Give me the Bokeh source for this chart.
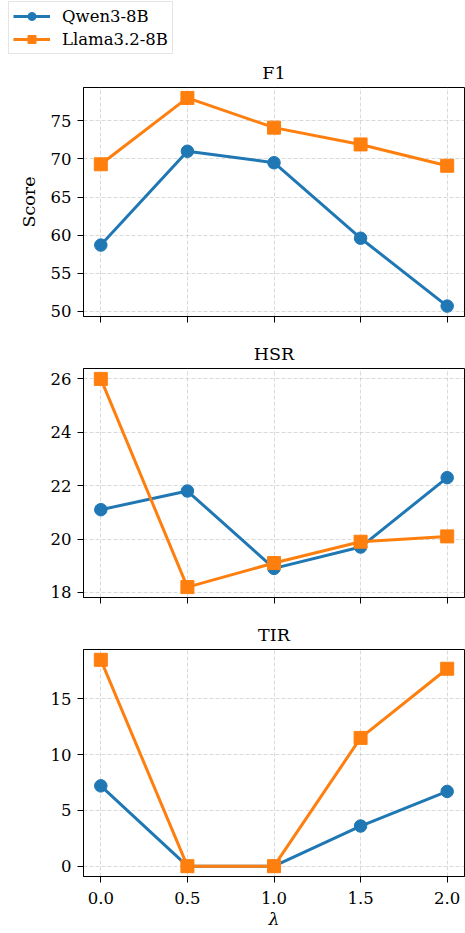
from bokeh.plotting import figure
from bokeh.layouts import column
from bokeh.models import FixedTicker, Range1d, Legend, LegendItem
from bokeh.embed import file_html
from bokeh.resources import INLINE

# ---- data ----
lambdas = [0.0, 0.5, 1.0, 1.5, 2.0]
series_names = ["Qwen3-8B", "Llama3.2-8B"]

f1_qwen = [58.7, 71.0, 69.5, 59.6, 50.7]
f1_llama = [69.3, 78.0, 74.1, 71.9, 69.1]

hsr_qwen = [21.1, 21.8, 18.9, 19.7, 22.3]
hsr_llama = [26.0, 18.2, 19.1, 19.9, 20.1]

tir_qwen = [7.2, 0.0, 0.0, 3.6, 6.7]
tir_llama = [18.5, 0.0, 0.0, 11.5, 17.7]

titles = ["F1", "HSR", "TIR"]
x_ticks = [0.0, 0.5, 1.0, 1.5, 2.0]
f1_ticks = [50, 55, 60, 65, 70, 75]
hsr_ticks = [18, 20, 22, 24, 26]
tir_ticks = [0, 5, 10, 15]

BLUE = "#1f77b4"
ORANGE = "#ff7f0e"
FONT = "DejaVu Serif"
TICK_FS = "16.5px"
TITLE_FS = "17.5px"
LABEL_FS = "17.5px"
W = 465
LEFT = 83


def padded(vals):
    lo, hi = min(vals), max(vals)
    m = (hi - lo) * 0.05
    return Range1d(lo - m, hi + m)


def add_series(p, qwen, llama):
    l1 = p.line(lambdas, qwen, line_color=BLUE, line_width=3)
    s1 = p.scatter(lambdas, qwen, marker="circle", size=12.5, fill_color=BLUE, line_color=BLUE)
    l2 = p.line(lambdas, llama, line_color=ORANGE, line_width=3)
    s2 = p.scatter(lambdas, llama, marker="square", size=13, fill_color=ORANGE, line_color=ORANGE)
    return l1, s1, l2, s2


def make_panel(title, qwen, llama, yticks, height, top, bottom, last=False, ylabel=None):
    p = figure(width=W, height=height, output_backend="svg", toolbar_location=None,
               x_range=Range1d(-0.1, 2.1), y_range=padded(qwen + llama),
               min_border_left=LEFT, min_border_right=1,
               min_border_top=top, min_border_bottom=bottom)
    p.title.text = title
    p.title.text_font = FONT
    p.title.text_font_size = TITLE_FS
    p.title.text_font_style = "normal"
    p.title.text_color = "black"
    p.title.align = "center"
    p.title.standoff = 10
    p.outline_line_color = "black"
    p.outline_line_alpha = 1
    p.outline_line_width = 1
    p.background_fill_color = "white"
    p.border_fill_color = "white"

    for ax in (p.xaxis[0], p.yaxis[0]):
        ax.axis_line_color = "black"
        ax.major_tick_line_color = "black"
        ax.major_tick_out = 6
        ax.major_tick_in = 0
        ax.minor_tick_line_color = None
        ax.major_label_text_font = FONT
        ax.major_label_text_font_size = TICK_FS
        ax.major_label_text_color = "black"
        ax.axis_label_text_font = FONT
        ax.axis_label_text_font_size = LABEL_FS
        ax.axis_label_text_font_style = "normal"
        ax.axis_label_text_color = "black"
        ax.major_label_standoff = 6
        ax.axis_label_standoff = 9

    p.xaxis.ticker = FixedTicker(ticks=x_ticks)
    p.yaxis.ticker = FixedTicker(ticks=yticks)
    if not last:
        p.xaxis.major_label_overrides = {t: "" for t in x_ticks}
    else:
        p.xaxis.major_label_overrides = {t: f"{t:.1f}" for t in x_ticks}
        p.xaxis.axis_label = "λ"
        p.xaxis.axis_label_text_font_style = "italic"
        p.xaxis.major_label_standoff = 9
        p.xaxis.axis_label_standoff = 2
    if ylabel:
        p.yaxis.axis_label = ylabel

    p.grid.grid_line_color = "#b0b0b0"
    p.grid.grid_line_alpha = 0.6
    p.grid.grid_line_dash = "4 2"
    p.grid.grid_line_width = 0.8

    add_series(p, qwen, llama)
    return p


# legend strip on top (its own root, so it is not frame-aligned with the panels)
p0 = figure(width=W, height=55, output_backend="svg", toolbar_location=None,
            x_range=Range1d(100, 101), y_range=Range1d(100, 101),
            min_border_left=0, min_border_right=0, min_border_top=0, min_border_bottom=0)
p0.axis.visible = False
p0.grid.visible = False
p0.outline_line_color = None
lq, sq, ll, sl = add_series(p0, f1_qwen, f1_llama)
legend = Legend(items=[LegendItem(label=series_names[0], renderers=[lq, sq]),
                       LegendItem(label=series_names[1], renderers=[ll, sl])],
                location=(8, 1))
legend.label_text_font = FONT
legend.label_text_font_size = TICK_FS
legend.label_text_color = "black"
legend.glyph_width = 37
legend.glyph_height = 20
legend.label_standoff = 12
legend.spacing = 3
legend.padding = 4
legend.margin = 0
legend.border_line_color = "#cccccc"
legend.border_line_width = 1
legend.background_fill_color = "white"
legend.background_fill_alpha = 1
p0.add_layout(legend, "center")

p1 = make_panel(titles[0], f1_qwen, f1_llama, f1_ticks, 275, 32, 14, ylabel="Score")
p2 = make_panel(titles[1], hsr_qwen, hsr_llama, hsr_ticks, 280, 38, 13)
p3 = make_panel(titles[2], tir_qwen, tir_llama, tir_ticks, 323, 39, 57, last=True)

panels = column(p1, p2, p3, spacing=0)
open("out.html", "w").write(file_html([p0, panels], INLINE))
